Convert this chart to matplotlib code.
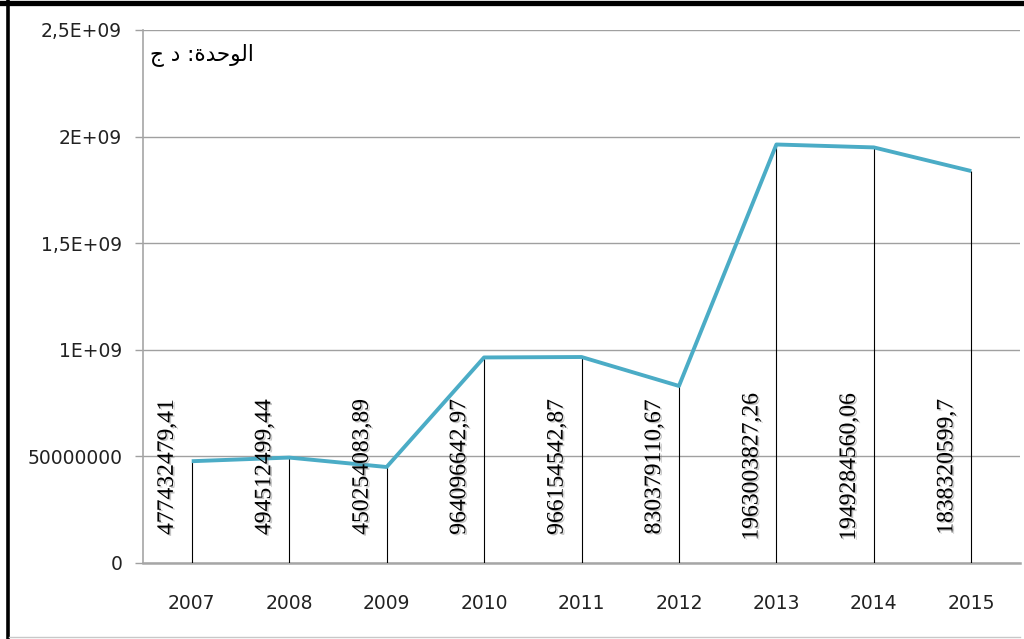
import numpy as np
import matplotlib.pyplot as plt
import matplotlib.patheffects as pe
from matplotlib.lines import Line2D
from matplotlib.transforms import blended_transform_factory

##### yearly amounts (DZD)
years = ['2007', '2008', '2009', '2010', '2011', '2012', '2013', '2014', '2015']
amounts = [477432479.41, 494512499.44, 450254083.89, 964096642.97, 966154542.87,
           830379110.67, 1963003827.26, 1949284560.06, 1838320599.7]
ytick_values = [0, 0.5e9, 1.0e9, 1.5e9, 2.0e9, 2.5e9]
ytick_labels = ['0', '50000000', '1E+09', '1,5E+09', '2E+09', '2,5E+09']
# "الوحدة: د ج" written with presentation forms in display order
unit_text = '\uFE9D \uFEA9 :\uFE93\uFEAA\uFEA3\uFEEE\uFEDF\uFE8D'

plt.rcParams['font.family'] = ['DejaVu Sans', 'Noto Sans']
plt.rcParams['font.serif'] = ['Liberation Serif', 'DejaVu Serif']

W, H = 1024, 639
fig = plt.figure(figsize=(W / 100, H / 100), dpi=100)
ax = fig.add_axes([143 / W, 1 - 563 / H, (1020 - 143) / W, (563 - 30) / H])

x = np.arange(len(years))
ax.set_xlim(-0.5, len(years) - 0.5)
ax.set_ylim(0, 2.5e9)

#### gridlines and axes
ax.set_yticks(ytick_values)
ax.set_yticklabels(ytick_labels)
ax.yaxis.grid(True, color='#a0a0a0', linewidth=1.0)
ax.set_axisbelow(True)
ax.set_xticks(x)
ax.set_xticklabels(years)
ax.tick_params(axis='y', length=6, width=1, color='#a0a0a0', pad=9, labelsize=13.5, labelcolor='#222222')
ax.tick_params(axis='x', length=0, pad=22, labelsize=13.5, labelcolor='#222222')
for side in ['top', 'right']:
    ax.spines[side].set_visible(False)
ax.spines['left'].set_color('#a6a6a6')
ax.spines['left'].set_linewidth(1.2)
ax.spines['bottom'].set_color('#a6a6a6')
ax.spines['bottom'].set_linewidth(1.8)

#### drop lines and series line
ax.vlines(x, 0, amounts, color='black', linewidth=0.8, zorder=3)
ax.plot(x, amounts, color='#4BACC6', linewidth=2.8, solid_capstyle='butt', zorder=4)

#### rotated value labels
trans = blended_transform_factory(ax.transData, ax.transAxes)
shadow = [pe.SimplePatchShadow(offset=(1.2, -1.0), shadow_rgbFace='#808080', alpha=0.45), pe.Normal()]
for xi, v in zip(x, amounts):
    label = f'{v:.2f}'.rstrip('0').replace('.', ',')
    ax.text(xi - 0.25, 0.18, label, transform=trans, rotation=90, ha='center', va='center',
            fontsize=17, fontfamily='serif', color='black', zorder=5, path_effects=shadow)

ax.text(0.008, 0.975, unit_text, transform=ax.transAxes, ha='left', va='top',
        fontsize=15.5, color='black')

#### outer frame
fig.add_artist(Line2D([0, 1], [1 - 2.5 / H, 1 - 2.5 / H], transform=fig.transFigure, color='black', linewidth=3.8))
fig.add_artist(Line2D([7.5 / W, 7.5 / W], [0, 1], transform=fig.transFigure, color='black', linewidth=2.6))
fig.add_artist(Line2D([9 / W, 1020 / W], [1 - 637 / H, 1 - 637 / H], transform=fig.transFigure, color='#c8c8c8', linewidth=1.0))

fig.savefig('out.png', dpi=100)
